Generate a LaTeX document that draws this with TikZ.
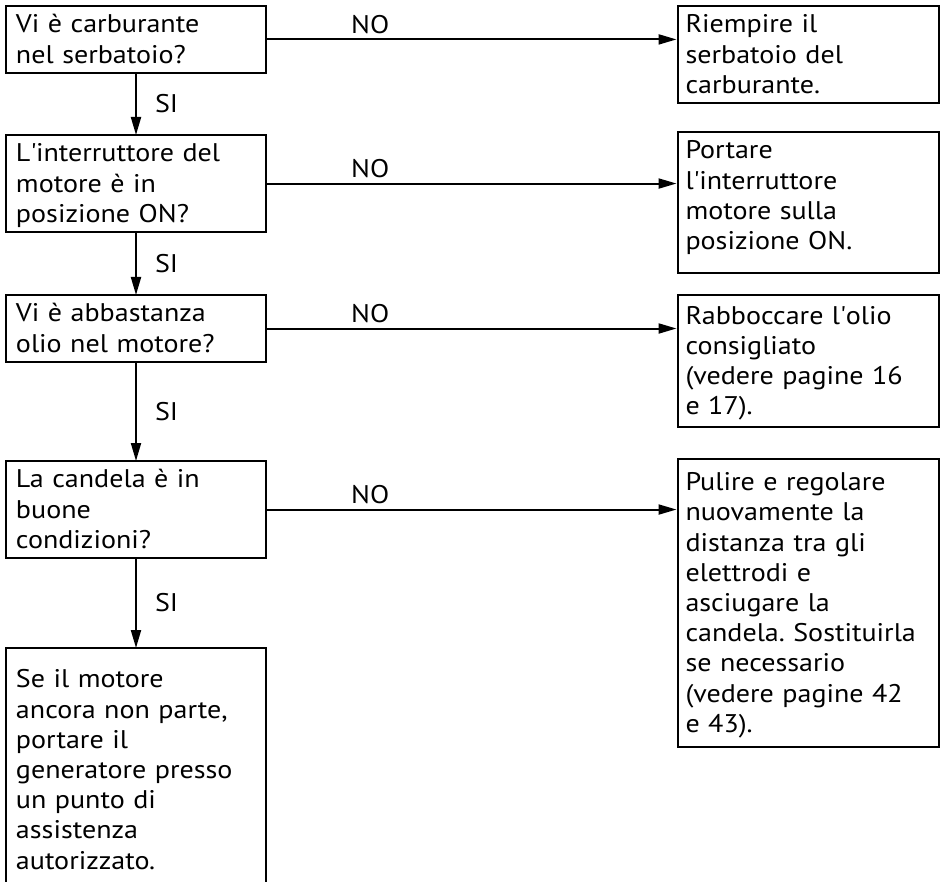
\documentclass[tikz,border=0pt]{standalone}
\usepackage{fontspec}
\setmainfont{PT Sans}[FakeStretch=1.1]
\usetikzlibrary{arrows.meta}
\newcommand{\ap}{\textquotesingle}
\frenchspacing
\begin{document}
\begin{tikzpicture}[x=1pt,y=-1pt,line width=2pt,
  box/.style={draw, rectangle, outer sep=0pt, anchor=north west, align=left,
    font=\fontsize{25.5}{30.2}\selectfont,
    execute at begin node={\rule{0pt}{23.5pt}},
    execute at end node={\rule[-6.5pt]{0pt}{6.5pt}}},
  lbox/.style={box, minimum width=260pt, text width=240pt, inner xsep=10pt},
  rbox/.style={box, minimum width=261pt, text width=246pt, inner xsep=7.5pt},
  arr/.style={-{Triangle[length=18pt,width=10pt]}},
  lab/.style={font=\fontsize{25.5}{30.2}\selectfont, inner sep=0pt},
  nolab/.style={lab, pos=0.253, anchor=base, yshift=6pt},
  silab/.style={lab, anchor=west, xshift=18pt}
]
\useasboundingbox (0,0) rectangle (941,882);

\node[lbox, minimum height=65pt] (L1) at (6,6) {Vi è carburante\\nel serbatoio?};
\node[lbox, minimum height=95pt] (L2) at (6,135) {L\ap interruttore del\\motore è in\\posizione ON?};
\node[lbox, minimum height=67pt] (L3) at (6,295) {Vi è abbastanza\\olio nel motore?};
\node[lbox, minimum height=95pt] (L4) at (6,461) {La candela è in\\buone\\condizioni?};
\node[lbox, draw=none, minimum height=244pt] (L5) at (6,648) {Se il motore\\ancora non parte,\\portare il\\generatore presso\\un punto di\\assistenza\\autorizzato.};
\draw (L5.south west) -- (L5.north west) -- (L5.north east) -- (L5.south east);

\node[rbox, minimum height=96pt] (R1) at (678,6) {Riempire il\\serbatoio del\\carburante.};
\node[rbox, minimum height=140pt, execute at end node={\rule[-20.5pt]{0pt}{20.5pt}}] (R2) at (678,132) {Portare\\l\ap interruttore\\motore sulla\\posizione ON.};
\node[rbox, minimum height=132pt] (R3) at (678,295) {Rabboccare l\ap olio\\consigliato\\(vedere pagine 16\\e 17).};
\node[rbox, minimum height=288pt] (R4) at (678,459) {Pulire e regolare\\nuovamente la\\distanza tra gli\\elettrodi e\\asciugare la\\candela. Sostituirla\\se necessario\\(vedere pagine 42\\e 43).};

\draw[arr] (L1.south) -- node[silab]{SI} (L2.north);
\draw[arr] (L2.south) -- node[silab]{SI} (L3.north);
\draw[arr] (L3.south) -- node[silab]{SI} (L4.north);
\draw[arr] (L4.south) -- node[silab]{SI} (L5.north);

\draw[arr, shorten >=1.5pt] (L1.east) -- node[nolab]{NO} (L1.east -| R1.west);
\draw[arr, shorten >=1.5pt] (L2.east) -- node[nolab]{NO} (L2.east -| R2.west);
\draw[arr, shorten >=1.5pt] (L3.east) -- node[nolab]{NO} (L3.east -| R3.west);
\draw[arr, shorten >=1.5pt] (L4.east) -- node[nolab]{NO} (L4.east -| R4.west);
\end{tikzpicture}
\end{document}
